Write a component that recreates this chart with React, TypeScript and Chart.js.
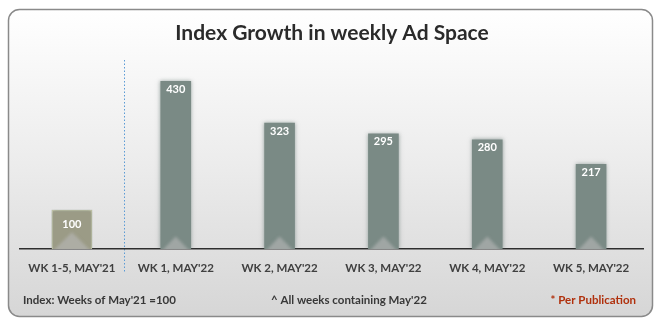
import React, { useEffect, useRef } from "react";
import { Chart, registerables } from "chart.js";

Chart.register(...registerables);

const categories = ["WK 1-5, MAY'21", "WK 1, MAY'22", "WK 2, MAY'22", "WK 3, MAY'22", "WK 4, MAY'22", "WK 5, MAY'22"];
const baseValues = [100, null, null, null, null, null];
const weekValues = [null, 430, 323, 295, 280, 217];
const titleText = "Index Growth in weekly Ad Space";
const footLeft = "Index: Weeks of May'21 =100";
const footMid = "^ All weeks containing May'22";
const footRight = "* Per Publication";

const FONT = "Lato, 'Open Sans', sans-serif";

const decorPlugin = {
  id: "decor",
  beforeDraw(chart: any) {
    const ctx = chart.ctx;
    const W = chart.width;
    const H = chart.height;
    ctx.save();
    ctx.fillStyle = "#ffffff";
    ctx.fillRect(0, 0, W, H);
    const x = 8.5, y = 9.5, w = 644, h = 307, r = 11;
    const g = ctx.createLinearGradient(0, y, 0, y + h);
    g.addColorStop(0, "#ffffff");
    g.addColorStop(0.5, "#ececec");
    g.addColorStop(1, "#d6d6d6");
    ctx.beginPath();
    ctx.roundRect(x, y, w, h, r);
    ctx.fillStyle = g;
    ctx.fill();
    ctx.lineWidth = 1.5;
    ctx.strokeStyle = "#8a8a8a";
    ctx.stroke();

    // title
    ctx.fillStyle = "#2a2a2a";
    ctx.font = `bold 21px ${FONT}`;
    ctx.textAlign = "center";
    ctx.textBaseline = "middle";
    ctx.fillText(titleText, 332, 33);

    // footer
    ctx.font = `bold 11.5px ${FONT}`;
    ctx.textAlign = "left";
    ctx.fillStyle = "#383838";
    ctx.fillText(footLeft, 23, 300);
    ctx.fillText(footMid, 271, 300);
    ctx.fillStyle = "#b0300c";
    ctx.textAlign = "right";
    ctx.fillText(footRight, 636, 300);

    // dotted separator
    const xs = chart.scales.x;
    const sx = Math.round(xs.getPixelForValue(0.5)) + 0.5;
    ctx.beginPath();
    ctx.setLineDash([1.5, 2]);
    ctx.strokeStyle = "#5b9bd5";
    ctx.lineWidth = 1;
    ctx.moveTo(sx, 60);
    ctx.lineTo(sx, 272);
    ctx.stroke();
    ctx.setLineDash([]);
    ctx.restore();
  },
  beforeDatasetsDraw(chart: any) {
    const ctx = chart.ctx;
    ctx.save();
    ctx.shadowColor = "rgba(80,100,95,0.55)";
    ctx.shadowBlur = 4;
  },
  afterDatasetsDraw(chart: any) {
    const ctx = chart.ctx;
    ctx.restore();
    ctx.save();
    chart.data.datasets.forEach((ds: any, di: number) => {
      const meta = chart.getDatasetMeta(di);
      meta.data.forEach((el: any, i: number) => {
        const v = ds.data[i];
        if (v === null || v === undefined) return;
        const w = el.width;
        const half = w / 2;
        // soft lighter chevron at the bottom
        ctx.save();
        ctx.beginPath();
        ctx.rect(el.x - half, el.y, w, el.base - el.y);
        ctx.clip();
        ctx.filter = "blur(1.5px)";
        ctx.beginPath();
        ctx.moveTo(el.x - half + 1, el.base + 2);
        ctx.lineTo(el.x, el.base - w * 0.42);
        ctx.lineTo(el.x + half - 1, el.base + 2);
        ctx.closePath();
        ctx.fillStyle = "rgba(185,185,185,0.6)";
        ctx.fill();
        ctx.restore();
        // value label
        ctx.fillStyle = "#ffffff";
        ctx.font = `bold 11px ${FONT}`;
        ctx.textAlign = "center";
        ctx.textBaseline = "middle";
        ctx.fillText(String(v), el.x, el.y + (di === 0 ? 14 : 8));
      });
    });
    ctx.restore();
  },
};

export default function App() {
  const ref = useRef<HTMLCanvasElement | null>(null);
  useEffect(() => {
    if (!ref.current) return;
    const chart = new Chart(ref.current, {
      type: "bar",
      data: {
        labels: categories,
        datasets: [
          {
            data: baseValues,
            backgroundColor: "#9b9b86",
            borderColor: "#c9c9ac",
            borderWidth: 1.5,
            barThickness: 40,
            grouped: false,
          },
          {
            data: weekValues,
            backgroundColor: "#7a8a85",
            borderWidth: 0,
            barThickness: 30,
            grouped: false,
          },
        ],
      } as any,
      options: {
        animation: false,
        responsive: false,
        maintainAspectRatio: false,
        layout: { padding: { left: 20, right: 16, top: 54, bottom: 0 } },
        plugins: { legend: { display: false }, title: { display: false }, tooltip: { enabled: false } },
        scales: {
          y: { display: false, min: 0, max: 500 },
          x: {
            grid: { display: false },
            border: { display: true, color: "#2e2e2e", width: 1.5 },
            ticks: {
              color: "#404040",
              font: { family: FONT, size: 11.5, weight: "bold" },
              padding: 4,
              maxRotation: 0,
              autoSkip: false,
            },
            afterFit(scale: any) {
              scale.height = 76;
            },
          },
        },
      } as any,
      plugins: [decorPlugin],
    });
    return () => chart.destroy();
  }, []);
  return (
    <div style={{ position: "fixed", left: 0, top: 0, width: 659, height: 325 }}>
      <canvas ref={ref} width={659} height={325} style={{ display: "block", width: 659, height: 325 }} />
    </div>
  );
}
